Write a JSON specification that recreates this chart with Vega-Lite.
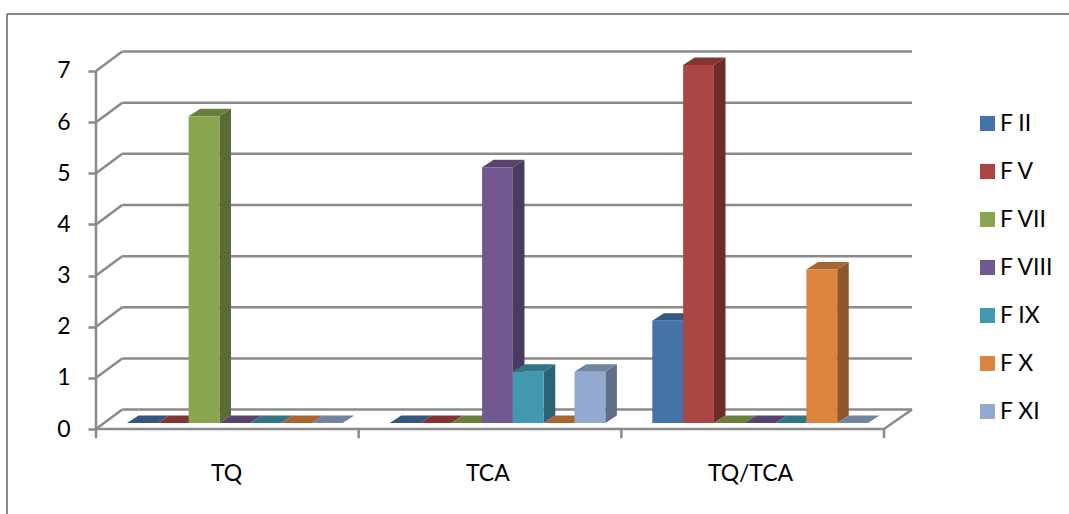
{
  "$schema": "https://vega.github.io/schema/vega-lite/v6.json",
  "width": 816,
  "height": 389,
  "padding": {"left": 96, "top": 40, "right": 157, "bottom": 85},
  "autosize": {"type": "none"},
  "background": "white",
  "config": {"view": {"stroke": null}, "font": "Lato"},
  "data": {"values": [
    {"group": "TQ", "series": "F II", "value": 0},
    {"group": "TQ", "series": "F V", "value": 0},
    {"group": "TQ", "series": "F VII", "value": 6},
    {"group": "TQ", "series": "F VIII", "value": 0},
    {"group": "TQ", "series": "F IX", "value": 0},
    {"group": "TQ", "series": "F X", "value": 0},
    {"group": "TQ", "series": "F XI", "value": 0},
    {"group": "TCA", "series": "F II", "value": 0},
    {"group": "TCA", "series": "F V", "value": 0},
    {"group": "TCA", "series": "F VII", "value": 0},
    {"group": "TCA", "series": "F VIII", "value": 5},
    {"group": "TCA", "series": "F IX", "value": 1},
    {"group": "TCA", "series": "F X", "value": 0},
    {"group": "TCA", "series": "F XI", "value": 1},
    {"group": "TQ/TCA", "series": "F II", "value": 2},
    {"group": "TQ/TCA", "series": "F V", "value": 7},
    {"group": "TQ/TCA", "series": "F VII", "value": 0},
    {"group": "TQ/TCA", "series": "F VIII", "value": 0},
    {"group": "TQ/TCA", "series": "F IX", "value": 0},
    {"group": "TQ/TCA", "series": "F X", "value": 3},
    {"group": "TQ/TCA", "series": "F XI", "value": 0}
  ]},
  "transform": [
    {"calculate": "indexof(['TQ','TCA','TQ/TCA'], datum.group) + 0.118 + indexof(['F II','F V','F VII','F VIII','F IX','F X','F XI'], datum.series) * 0.1173", "as": "left"},
    {"calculate": "datum.left + 0.1173", "as": "right"},
    {"calculate": "0.117", "as": "base"},
    {"calculate": "datum.base + datum.value", "as": "top"},
    {"calculate": "datum.group + '|' + datum.series", "as": "bar"}
  ],
  "layer": [
    {
      "data": {"values": [{"level": 0}, {"level": 1}, {"level": 2}, {"level": 3}, {"level": 4}, {"level": 5}, {"level": 6}, {"level": 7}]},
      "transform": [
        {"calculate": "datum.level + 0.38", "as": "back"},
        {"calculate": "0.1", "as": "wallX"},
        {"calculate": "3.1066", "as": "wallEnd"}
      ],
      "mark": {"type": "rule", "color": "#8a8a8a", "strokeWidth": 2.5},
      "encoding": {
        "x": {
          "field": "wallX",
          "type": "quantitative",
          "scale": {"domain": [0, 3.1066], "nice": false, "zero": false},
          "axis": {
            "values": [0.495, 1.49, 2.49],
            "labelExpr": "datum.value < 1 ? 'TQ' : datum.value < 2 ? 'TCA' : 'TQ/TCA'",
            "title": null,
            "ticks": false,
            "domain": false,
            "grid": false,
            "labelFontSize": 23,
            "labelFont": "Lato",
            "labelColor": "#000000",
            "labelPadding": 33
          }
        },
        "x2": {"field": "wallEnd"},
        "y": {
          "field": "back",
          "type": "quantitative",
          "scale": {"domain": [0, 7.606], "nice": false, "zero": false},
          "axis": {
            "values": [0, 1, 2, 3, 4, 5, 6, 7],
            "format": "d",
            "title": null,
            "domain": false,
            "grid": false,
            "tickSize": 8,
            "tickWidth": 2.5,
            "tickColor": "#8a8a8a",
            "labelFontSize": 23,
            "labelFont": "Lato",
            "labelColor": "#000000",
            "labelPadding": 18
          }
        }
      }
    },
    {
      "data": {"values": [{"level": 0}, {"level": 1}, {"level": 2}, {"level": 3}, {"level": 4}, {"level": 5}, {"level": 6}, {"level": 7}]},
      "transform": [
        {"calculate": "datum.level + 0.38", "as": "back"},
        {"calculate": "0", "as": "front"},
        {"calculate": "0.1", "as": "wallX"}
      ],
      "mark": {"type": "rule", "color": "#8a8a8a", "strokeWidth": 2.5},
      "encoding": {
        "x": {"field": "front", "type": "quantitative"},
        "x2": {"field": "wallX"},
        "y": {"field": "level", "type": "quantitative"},
        "y2": {"field": "back"}
      }
    },
    {
      "data": {"values": [{"tick": 0}, {"tick": 1}, {"tick": 2}, {"tick": 3}]},
      "mark": {"type": "rule", "color": "#8a8a8a", "strokeWidth": 2.5},
      "encoding": {
        "x": {"field": "tick", "type": "quantitative"},
        "y": {"datum": 0},
        "y2": {"datum": -0.18}
      }
    },
    {
      "data": {"values": [{"name": "floor"}]},
      "mark": {"type": "rule", "color": "#8a8a8a", "strokeWidth": 2.5},
      "encoding": {"x": {"datum": 0}, "x2": {"datum": 3}, "y": {"datum": 0}}
    },
    {
      "data": {"values": [{"name": "floor side"}]},
      "mark": {"type": "rule", "color": "#8a8a8a", "strokeWidth": 2.5},
      "encoding": {"x": {"datum": 3}, "x2": {"datum": 3.1066}, "y": {"datum": 0}, "y2": {"datum": 0.38}}
    },
    {
      "data": {"values": [{"name": "value axis"}]},
      "mark": {"type": "rule", "color": "#8a8a8a", "strokeWidth": 2.5},
      "encoding": {"x": {"datum": 0}, "y": {"datum": 0}, "y2": {"datum": 7}}
    },
    {
      "data": {"values": [{"name": "frame left"}]},
      "mark": {"type": "rule", "color": "#868686", "strokeWidth": 2},
      "encoding": {"x": {"datum": -0.339}, "y": {"datum": -1.67}, "y2": {"datum": 8.115}}
    },
    {
      "data": {"values": [{"name": "frame top"}]},
      "mark": {"type": "rule", "color": "#868686", "strokeWidth": 2},
      "encoding": {"x": {"datum": -0.339}, "x2": {"datum": 3.704}, "y": {"datum": 8.115}}
    },
    {
      "transform": [
        {"calculate": "[0, 1]", "as": "corner"},
        {"flatten": ["corner"]},
        {"calculate": "datum.right + datum.corner * 0.044", "as": "sx"},
        {"calculate": "datum.top + datum.corner * 0.147", "as": "sy"},
        {"calculate": "datum.base + datum.corner * 0.147", "as": "sy0"}
      ],
      "mark": {"type": "area", "orient": "vertical"},
      "encoding": {
        "x": {"field": "sx", "type": "quantitative"},
        "y": {"field": "sy", "type": "quantitative"},
        "y2": {"field": "sy0"},
        "detail": {"field": "bar"},
        "color": {
          "field": "series",
          "type": "nominal",
          "legend": null,
          "scale": {
            "domain": ["F II", "F V", "F VII", "F VIII", "F IX", "F X", "F XI"],
            "range": ["#2d4a6e", "#6f2b2a", "#5a6c33", "#4a3a5e", "#2a6373", "#8f5628", "#606f88"]
          }
        }
      }
    },
    {
      "transform": [
        {"calculate": "[0, 1]", "as": "corner"},
        {"flatten": ["corner"]},
        {"calculate": "datum.left + datum.corner * 0.044", "as": "tx"},
        {"calculate": "datum.right + datum.corner * 0.044", "as": "tx2"},
        {"calculate": "datum.top + datum.corner * 0.147", "as": "ty"}
      ],
      "mark": {"type": "area", "orient": "horizontal"},
      "encoding": {
        "y": {"field": "ty", "type": "quantitative"},
        "x": {"field": "tx", "type": "quantitative"},
        "x2": {"field": "tx2"},
        "detail": {"field": "bar"},
        "color": {
          "field": "series",
          "type": "nominal",
          "legend": null,
          "scale": {
            "domain": ["F II", "F V", "F VII", "F VIII", "F IX", "F X", "F XI"],
            "range": ["#355880", "#833534", "#697f3b", "#57436e", "#327587", "#a8652f", "#7184a0"]
          }
        }
      }
    },
    {
      "mark": {"type": "rect"},
      "encoding": {
        "x": {"field": "left", "type": "quantitative"},
        "x2": {"field": "right"},
        "y": {"field": "top", "type": "quantitative"},
        "y2": {"field": "base"},
        "color": {
          "field": "series",
          "type": "nominal",
          "scale": {
            "domain": ["F II", "F V", "F VII", "F VIII", "F IX", "F X", "F XI"],
            "range": ["#4572a7", "#aa4643", "#89a54e", "#71588f", "#4198af", "#db843d", "#93a9cf"]
          },
          "legend": {
            "orient": "none",
            "legendX": 880,
            "legendY": 72,
            "title": null,
            "symbolType": "square",
            "symbolSize": 225,
            "symbolStrokeWidth": 0,
            "labelFontSize": 23,
            "labelFont": "Lato",
            "labelColor": "#000000",
            "labelOffset": 1,
            "rowPadding": 24,
            "padding": 0
          }
        }
      }
    }
  ],
  "resolve": {"scale": {"color": "independent"}}
}
